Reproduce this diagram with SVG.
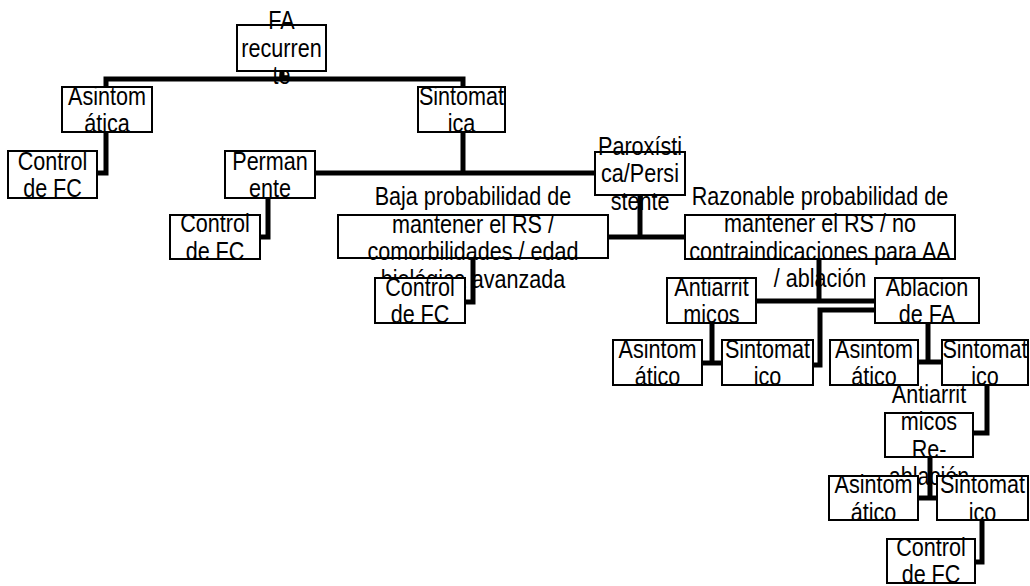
<svg xmlns="http://www.w3.org/2000/svg" width="1030" height="586" viewBox="0 0 1030 586">
  <style>
    .box { fill: #ffffff; stroke: #000000; stroke-width: 2; }
    .lbl { font-family: "Liberation Sans", Arial, sans-serif; font-size: 26px; fill: #000000; text-anchor: middle; }
    .wire { fill: none; stroke: #000000; stroke-width: 5; stroke-linejoin: miter; stroke-linecap: butt; }
  </style>
  <rect width="1030" height="586" fill="#ffffff"/>

  <!-- decision tree nodes; labels use a condensed (narrowed) sans -->
  <g id="n-fa-recurrente">
    <rect class="box" x="237" y="25" width="89" height="46"/>
    <text class="lbl" transform="translate(281.5 0) scale(0.83 1)"><tspan x="0" y="29.5">FA</tspan><tspan x="0" y="57">recurren</tspan><tspan x="0" y="84.5">te</tspan></text>
  </g>
  <g id="n-asintomatica">
    <rect class="box" x="62" y="87" width="90" height="45"/>
    <text class="lbl" transform="translate(107 0) scale(0.83 1)"><tspan x="0" y="104.75">Asintom</tspan><tspan x="0" y="132.25">ática</tspan></text>
  </g>
  <g id="n-sintomatica">
    <rect class="box" x="418" y="87" width="87" height="45"/>
    <text class="lbl" transform="translate(461.5 0) scale(0.83 1)"><tspan x="0" y="104.75">Sintomat</tspan><tspan x="0" y="132.25">ica</tspan></text>
  </g>
  <g id="n-control-1">
    <rect class="box" x="8" y="151" width="89" height="47"/>
    <text class="lbl" transform="translate(52.5 0) scale(0.83 1)"><tspan x="0" y="169.75">Control</tspan><tspan x="0" y="197.25">de FC</tspan></text>
  </g>
  <g id="n-permanente">
    <rect class="box" x="225" y="151" width="90" height="47"/>
    <text class="lbl" transform="translate(270 0) scale(0.83 1)"><tspan x="0" y="169.75">Perman</tspan><tspan x="0" y="197.25">ente</tspan></text>
  </g>
  <g id="n-paroxistica">
    <rect class="box" x="595" y="152" width="90" height="43"/>
    <text class="lbl" transform="translate(640 0) scale(0.83 1)"><tspan x="0" y="155">Paroxísti</tspan><tspan x="0" y="182.5">ca/Persi</tspan><tspan x="0" y="210">stente</tspan></text>
  </g>
  <g id="n-control-2">
    <rect class="box" x="170" y="215" width="90" height="44"/>
    <text class="lbl" transform="translate(215 0) scale(0.83 1)"><tspan x="0" y="232.25">Control</tspan><tspan x="0" y="259.75">de FC</tspan></text>
  </g>
  <g id="n-baja">
    <rect class="box" x="338" y="215" width="270" height="43"/>
    <text class="lbl" transform="translate(473 0) scale(0.83 1)"><tspan x="0" y="205.5">Baja probabilidad de</tspan><tspan x="0" y="233">mantener el RS /</tspan><tspan x="0" y="260.5">comorbilidades / edad</tspan><tspan x="0" y="288">biológica avanzada</tspan></text>
  </g>
  <g id="n-razonable">
    <rect class="box" x="685" y="215" width="270" height="44"/>
    <text class="lbl" transform="translate(820 0) scale(0.83 1)"><tspan x="0" y="205">Razonable probabilidad de</tspan><tspan x="0" y="232.5">mantener el RS / no</tspan><tspan x="0" y="260">contraindicaciones para AA</tspan><tspan x="0" y="287.5">/ ablación</tspan></text>
  </g>
  <g id="n-control-3">
    <rect class="box" x="375" y="278" width="90" height="45"/>
    <text class="lbl" transform="translate(420 0) scale(0.83 1)"><tspan x="0" y="295.75">Control</tspan><tspan x="0" y="323.25">de FC</tspan></text>
  </g>
  <g id="n-antiarritmicos">
    <rect class="box" x="667" y="278" width="89" height="45"/>
    <text class="lbl" transform="translate(711.5 0) scale(0.83 1)"><tspan x="0" y="295.75">Antiarrit</tspan><tspan x="0" y="323.25">micos</tspan></text>
  </g>
  <g id="n-ablacion">
    <rect class="box" x="875" y="278" width="104" height="45"/>
    <text class="lbl" transform="translate(927 0) scale(0.83 1)"><tspan x="0" y="295.75">Ablacion</tspan><tspan x="0" y="323.25">de FA</tspan></text>
  </g>
  <g id="n-asintomatico-1">
    <rect class="box" x="613" y="340" width="89" height="45"/>
    <text class="lbl" transform="translate(657.5 0) scale(0.83 1)"><tspan x="0" y="357.75">Asintom</tspan><tspan x="0" y="385.25">ático</tspan></text>
  </g>
  <g id="n-sintomatico-1">
    <rect class="box" x="722" y="340" width="91" height="45"/>
    <text class="lbl" transform="translate(767.5 0) scale(0.83 1)"><tspan x="0" y="357.75">Sintomat</tspan><tspan x="0" y="385.25">ico</tspan></text>
  </g>
  <g id="n-asintomatico-2">
    <rect class="box" x="830" y="340" width="88" height="45"/>
    <text class="lbl" transform="translate(874 0) scale(0.83 1)"><tspan x="0" y="357.75">Asintom</tspan><tspan x="0" y="385.25">ático</tspan></text>
  </g>
  <g id="n-sintomatico-2">
    <rect class="box" x="942" y="340" width="86" height="45"/>
    <text class="lbl" transform="translate(985 0) scale(0.83 1)"><tspan x="0" y="357.75">Sintomat</tspan><tspan x="0" y="385.25">ico</tspan></text>
  </g>
  <g id="n-reablacion">
    <rect class="box" x="885" y="413" width="88" height="44"/>
    <text class="lbl" transform="translate(929 0) scale(0.83 1)"><tspan x="0" y="402.75">Antiarrit</tspan><tspan x="0" y="430.25">micos</tspan><tspan x="0" y="457.75">Re-</tspan><tspan x="0" y="485.25">ablación</tspan></text>
  </g>
  <g id="n-asintomatico-3">
    <rect class="box" x="829" y="476" width="89" height="44"/>
    <text class="lbl" transform="translate(873.5 0) scale(0.83 1)"><tspan x="0" y="493.25">Asintom</tspan><tspan x="0" y="520.75">ático</tspan></text>
  </g>
  <g id="n-sintomatico-3">
    <rect class="box" x="937" y="476" width="91" height="44"/>
    <text class="lbl" transform="translate(982.5 0) scale(0.83 1)"><tspan x="0" y="493.25">Sintomat</tspan><tspan x="0" y="520.75">ico</tspan></text>
  </g>
  <g id="n-control-4">
    <rect class="box" x="887" y="539" width="88" height="44"/>
    <text class="lbl" transform="translate(931 0) scale(0.83 1)"><tspan x="0" y="556.25">Control</tspan><tspan x="0" y="583.5">de FC</tspan></text>
  </g>

  <!-- elbow connectors between nodes -->
  <g id="connectors">
    <path class="wire" d="M282 71 V79"/>
    <path class="wire" d="M106 87 V79 H463 V87"/>
    <path class="wire" d="M106 132 V173 H97"/>
    <path class="wire" d="M463 132 V173"/>
    <path class="wire" d="M315 173 H595"/>
    <path class="wire" d="M268 198 V237 H260"/>
    <path class="wire" d="M640 195 V237"/>
    <path class="wire" d="M608 237 H685"/>
    <path class="wire" d="M473 258 V302 H465"/>
    <path class="wire" d="M819 259 V301"/>
    <path class="wire" d="M756 301 H875"/>
    <path class="wire" d="M875 310 H820 V365 H813"/>
    <path class="wire" d="M712 323 V363"/>
    <path class="wire" d="M702 363 H722"/>
    <path class="wire" d="M928 323 V362"/>
    <path class="wire" d="M918 362 H942"/>
    <path class="wire" d="M987 385 V433 H973"/>
    <path class="wire" d="M930 457 V498"/>
    <path class="wire" d="M918 498 H937"/>
    <path class="wire" d="M982 520 V562 H975"/>
  </g>
</svg>
